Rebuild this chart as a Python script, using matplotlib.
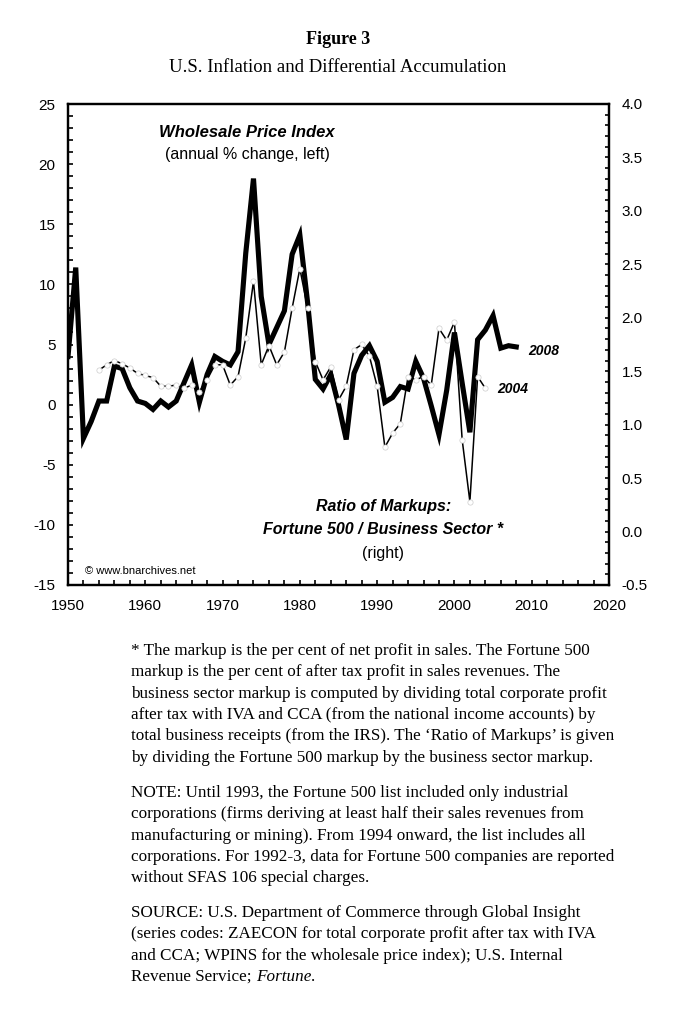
import matplotlib
matplotlib.use('Agg')
import matplotlib.pyplot as plt
from matplotlib.ticker import MultipleLocator, FormatStrFormatter

plt.rcParams['axes.unicode_minus'] = False

# Wholesale price index, annual % change (left axis)
wpi_years = list(range(1950, 2009))
wpi_change = [4.0, 11.4, -2.8, -1.4, 0.3, 0.3, 3.2, 3.0, 1.4, 0.3, 0.1, -0.4, 0.3, -0.2,
              0.3, 1.8, 3.3, 0.2, 2.5, 4.0, 3.6, 3.3, 4.4, 12.6, 18.8, 9.0, 5.0, 6.4,
              7.8, 12.5, 14.1, 8.5, 2.1, 1.3, 2.5, 0.0, -2.9, 2.6, 4.1, 4.9, 3.6, 0.2,
              0.6, 1.5, 1.3, 3.6, 2.2, -0.1, -2.5, 1.2, 6.0, 1.8, -2.3, 5.4, 6.2, 7.4,
              4.7, 4.9, 4.8]

# Ratio of markups: Fortune 500 / business sector (right axis)
ratio_years = list(range(1954, 2005))
ratio_values = [1.51, 1.56, 1.60, 1.57, 1.53, 1.48, 1.46, 1.44, 1.36, 1.36, 1.37, 1.34,
                1.37, 1.31, 1.42, 1.56, 1.56, 1.37, 1.45, 1.81, 2.34, 1.56, 1.74, 1.56,
                1.68, 2.09, 2.46, 2.09, 1.59, 1.42, 1.54, 1.23, 1.36, 1.70, 1.75, 1.64,
                1.36, 0.79, 0.92, 1.01, 1.45, 1.42, 1.45, 1.37, 1.90, 1.79, 1.96, 0.86,
                0.28, 1.45, 1.34]

sans = 'Liberation Sans'
serif = 'Liberation Serif'

fig = plt.figure(figsize=(6.76, 10.17), dpi=100)
ax = fig.add_axes([68/676, 1 - 585/1017, 541/676, 481/1017])
ax2 = ax.twinx()

ax.plot(wpi_years, wpi_change, color='black', lw=3.7, solid_joinstyle='miter', zorder=2)
ax2.plot(ratio_years, ratio_values, color='black', lw=1.1, marker='o', ms=3.8,
         mfc='white', mec='0.8', mew=0.5, zorder=3)

ax.set_xlim(1950, 2020)
ax.set_ylim(-15, 25)
ax2.set_ylim(-0.5, 4.0)

ax.xaxis.set_major_locator(MultipleLocator(10))
ax.xaxis.set_minor_locator(MultipleLocator(2))
ax.yaxis.set_major_locator(MultipleLocator(5))
ax.yaxis.set_minor_locator(MultipleLocator(1))
ax2.yaxis.set_major_locator(MultipleLocator(0.5))
ax2.yaxis.set_minor_locator(MultipleLocator(0.1))
ax2.yaxis.set_major_formatter(FormatStrFormatter('%.1f'))

ax.tick_params(axis='both', which='both', direction='in', width=1.2, labelsize=11)
ax.tick_params(axis='x', which='both', length=3.5, pad=10, top=False)
ax.tick_params(axis='y', which='both', length=3.5, pad=9)
ax2.tick_params(axis='y', which='both', direction='in', length=3, width=1.2,
                labelsize=11, pad=9)
for a in (ax, ax2):
    for s in a.spines.values():
        s.set_linewidth(1.6)
    for lab in a.get_xticklabels() + a.get_yticklabels():
        lab.set_fontfamily(sans)

# annotations
ax.text(1973.2, 22.6, 'Wholesale Price Index', fontsize=12, fontweight='bold',
        fontstyle='italic', family=sans, ha='center', va='center')
ax.text(1973.2, 20.8, '(annual % change, left)', fontsize=11.5, family=sans,
        ha='center', va='center')
ax2.text(2009.6, 1.69, '2008', fontsize=10, fontweight='bold', fontstyle='italic',
         family=sans, ha='left', va='center')
ax2.text(2005.6, 1.33, '2004', fontsize=10, fontweight='bold', fontstyle='italic',
         family=sans, ha='left', va='center')
ax.text(1990.8, -8.5, 'Ratio of Markups:', fontsize=11.5, fontweight='bold',
        fontstyle='italic', family=sans, ha='center', va='center')
ax.text(1990.8, -10.4, 'Fortune 500 / Business Sector *', fontsize=11.5, fontweight='bold',
        fontstyle='italic', family=sans, ha='center', va='center')
ax.text(1990.8, -12.35, '(right)', fontsize=11.5, family=sans, ha='center', va='center')
ax.text(1952.2, -13.85, '\u00a9 www.bnarchives.net', fontsize=8, family=sans,
        ha='left', va='center')

# title
fig.text(0.5, 1 - 40/1017, 'Figure 3', fontsize=13, fontweight='bold', family=serif,
         ha='center', va='center')
fig.text(0.5, 1 - 67/1017, 'U.S. Inflation and Differential Accumulation', fontsize=13.5,
         family=serif, ha='center', va='center')

# notes below the chart
note1 = ["* The markup is the per cent of net profit in sales. The Fortune 500",
         "markup is the per cent of after tax profit in sales revenues. The",
         "business sector markup is computed by dividing total corporate profit",
         "after tax with IVA and CCA (from the national income accounts) by",
         "total business receipts (from the IRS). The \u2018Ratio of Markups\u2019 is given",
         "by dividing the Fortune 500 markup by the business sector markup."]
note2 = ["NOTE: Until 1993, the Fortune 500 list included only industrial",
         "corporations (firms deriving at least half their sales revenues from",
         "manufacturing or mining). From 1994 onward, the list includes all",
         "corporations. For 1992-3, data for Fortune 500 companies are reported",
         "without SFAS 106 special charges."]
note3 = ["SOURCE: U.S. Department of Commerce through Global Insight",
         "(series codes: ZAECON for total corporate profit after tax with IVA",
         "and CCA; WPINS for the wholesale price index); U.S. Internal",
         "Revenue Service; "]

x0 = 131/676
step = 21.3
last = None
for block, ystart in ((note1, 651), (note2, 793), (note3, 913)):
    for i, line in enumerate(block):
        last = fig.text(x0, 1 - (ystart + i*step)/1017, line, fontsize=12.3, family=serif,
                        ha='left', va='center')

# italic "Fortune." right after the last line
renderer = fig.canvas.get_renderer()
bb = last.get_window_extent(renderer=renderer)
fig.text(bb.x1 / fig.bbox.width, last.get_position()[1], 'Fortune.', fontsize=12.3,
         family=serif, fontstyle='italic', ha='left', va='center')

fig.savefig('out.png', dpi=100)
